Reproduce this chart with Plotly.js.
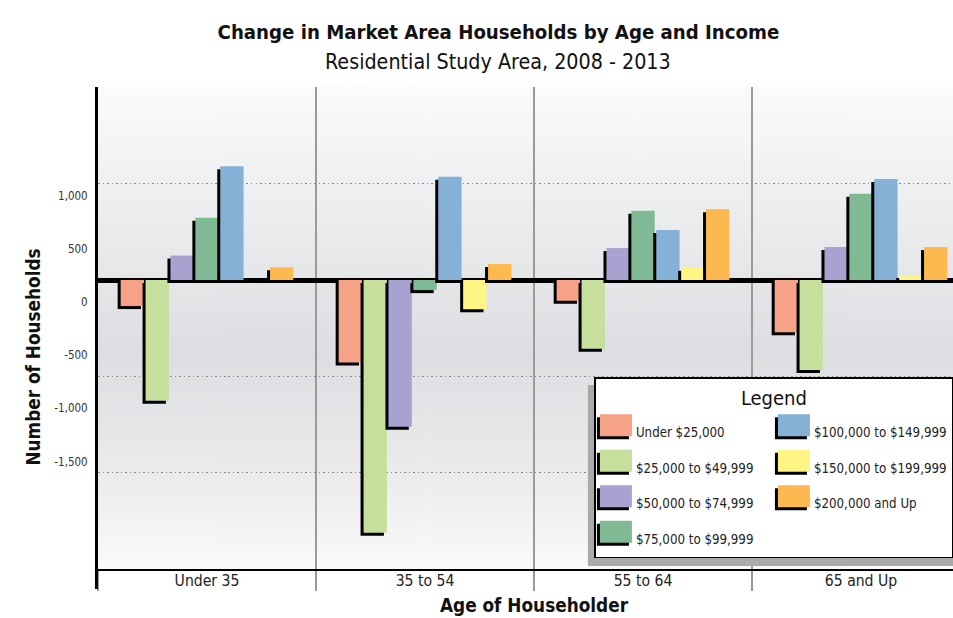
<!DOCTYPE html>
<html>
<head>
<meta charset="utf-8">
<script src="https://cdn.plot.ly/plotly-3.0.1.min.js"></script>
<style>
html,body{margin:0;padding:0;background:#fff;}
#chart{width:953px;height:618px;}
</style>
</head>
<body>
<div id="chart"></div>
<script>
// ---------------- data ----------------
const categories = ["Under 35", "35 to 54", "55 to 64", "65 and Up"];
const seriesNames = ["Under $25,000", "$25,000 to $49,999", "$50,000 to $74,999", "$75,000 to $99,999",
                     "$100,000 to $149,999", "$150,000 to $199,999", "$200,000 and Up"];
const seriesColors = ["#F6A287", "#C6DF9C", "#A8A2D0", "#80BA95", "#86B1D6", "#FFF585", "#FDB94F"];
const under25k   = [-245, -775, -195, -490];
const k25to50    = [-1135, -2375, -645, -845];
const k50to75    = [230, -1380, 300, 310];
const k75to100   = [585, -95, 650, 810];
const k100to150  = [1070, 970, 470, 950];
const k150to200  = [0, -275, 115, 45];
const k200plus   = [120, 150, 665, 310];
const yTickVals  = [-1500, -1000, -500, 0, 500, 1000];
const yTickText  = ["-1,500", "-1,000", "-500", "0", "500", "1,000"];
const legendRanks = [1, 3, 5, 7, 2, 4, 6];

const seriesValues = [under25k, k25to50, k50to75, k75to100, k100to150, k150to200, k200plus];

// ---------------- styling constants ----------------
const FONT = '"DejaVu Sans Condensed", "Liberation Sans Narrow", "Arial Narrow", sans-serif';
const off0 = -0.396, pitch = 0.1142, barW = 0.107;
const shadowDx = -3 / 218, shadowDy = 28.2;

// background gradient for plot area
const cv = document.createElement('canvas');
cv.width = 4; cv.height = 482;
const ctx = cv.getContext('2d');
const grad = ctx.createLinearGradient(0, 0, 0, 482);
grad.addColorStop(0.00, '#fbfbfb');
grad.addColorStop(0.20, '#eff0f1');
grad.addColorStop(0.40, '#e5e6e8');
grad.addColorStop(0.55, '#dddee1');
grad.addColorStop(0.80, '#ebebed');
grad.addColorStop(1.00, '#fafafa');
ctx.fillStyle = grad;
ctx.fillRect(0, 0, 4, 482);
const bgURL = cv.toDataURL();

// ---------------- traces ----------------
const traces = [];
seriesValues.forEach(function (vals, i) {
  traces.push({
    type: 'bar', x: categories, y: vals, base: -shadowDy,
    offset: off0 + i * pitch + shadowDx, width: barW,
    marker: {color: '#000', line: {width: 0}},
    showlegend: false, hoverinfo: 'skip'
  });
  traces.push({
    type: 'bar', name: '<span style="font-size:13.2px">' + seriesNames[i] + '</span>',
    x: categories, y: vals, offset: off0 + i * pitch, width: barW,
    marker: {color: seriesColors[i], line: {width: 0}},
    legendrank: legendRanks[i]
  });
});
traces.push({type: 'scatter', mode: 'markers', x: [], y: [], yaxis: 'y2', showlegend: false, hoverinfo: 'skip'});

const layout = {
  width: 953, height: 618,
  margin: {l: 98, r: 0, t: 87, b: 49, autoexpand: false},
  paper_bgcolor: '#ffffff',
  plot_bgcolor: 'rgba(0,0,0,0)',
  font: {family: FONT, color: '#222'},
  barmode: 'overlay',
  showlegend: true,
  title: {
    text: 'Change in Market Area Households by Age and Income',
    font: {family: FONT, size: 20.2, weight: 'bold', color: '#111'},
    x: 0.523, xref: 'container', xanchor: 'center',
    y: 0.948, yref: 'container', yanchor: 'middle'
  },
  xaxis: {
    type: 'category', categoryorder: 'array', categoryarray: categories,
    range: [-0.5, 3.422], tickson: 'boundaries',
    ticks: 'outside', ticklen: 20, tickwidth: 1.5, tickcolor: '#999',
    showgrid: true, gridcolor: '#9a9a9a', gridwidth: 1.5,
    showline: true, linecolor: '#000', linewidth: 1.5,
    zeroline: false, tickfont: {size: 15.6, color: '#222'},
    ticklabelstandoff: -3, fixedrange: true
  },
  yaxis: {
    range: [-2716, 1814], tickvals: yTickVals, ticktext: yTickText,
    ticks: '', showgrid: false,
    zeroline: true, zerolinecolor: '#000', zerolinewidth: 5,
    showline: true, linecolor: '#000', linewidth: 3,
    tickfont: {size: 11.5, color: '#333'},
    ticklabelshift: 22, ticklabelstandoff: 5, fixedrange: true
  },
  yaxis2: {
    overlaying: 'y', side: 'left', range: [-3.001, 2.004], dtick: 1, tick0: 0,
    showgrid: true, griddash: '1.5px,3px', gridcolor: '#8a8a8a', gridwidth: 1.2,
    showticklabels: false, zeroline: false, showline: false, ticks: '', fixedrange: true
  },
  legend: {
    orientation: 'h', x: 1.0005, xanchor: 'right', y: 0.3983, yanchor: 'top',
    bgcolor: '#ffffff', bordercolor: '#000', borderwidth: 1.5,
    font: {family: FONT, size: 25, color: '#222'},
    title: {text: 'Legend', side: 'top center', font: {family: FONT, size: 20, color: '#111'}},
    entrywidth: 133, entrywidthmode: 'pixels', traceorder: 'normal'
  },
  images: [{
    source: bgURL, xref: 'paper', yref: 'paper', x: 0, y: 1, sizex: 1, sizey: 1,
    sizing: 'stretch', xanchor: 'left', yanchor: 'top', layer: 'below'
  }],
  shapes: [
    {type: 'rect', xref: 'paper', yref: 'paper', layer: 'above',
     x0: 0.573, x1: 1.0, y0: 0.0062, y1: 0.3817,
     fillcolor: '#aaaaaa', line: {width: 0}},
    {type: 'line', xref: 'paper', yref: 'paper', layer: 'above',
     x0: -0.0018, x1: -0.0018, y0: 0.002, y1: -0.0415, line: {color: '#000', width: 3}}
  ],
  annotations: [
    {text: 'Residential Study Area, 2008 - 2013', xref: 'paper', yref: 'paper', x: 0.4678, y: 1.0519,
     xanchor: 'center', yanchor: 'middle', showarrow: false,
     font: {family: FONT, size: 21.3, color: '#111'}},
    {text: 'Number of Households', xref: 'paper', yref: 'paper', x: -0.0752, y: 0.44,
     xanchor: 'center', yanchor: 'middle', textangle: -90, showarrow: false,
     font: {family: FONT, size: 18.8, weight: 'bold', color: '#111'}},
    {text: 'Age of Householder', xref: 'paper', yref: 'paper', x: 0.51, y: -0.0747,
     xanchor: 'center', yanchor: 'middle', showarrow: false,
     font: {family: FONT, size: 18.8, weight: 'bold', color: '#111'}}
  ]
};

Plotly.newPlot('chart', traces, layout, {displayModeBar: false, staticPlot: true}).then(function (gd) {
  // enlarge legend swatches and give them the drop shadow seen in the reference
  const paths = gd.querySelectorAll('.legend .legendpoints path');
  paths.forEach(function (p) {
    const sh = p.cloneNode(true);
    sh.setAttribute('d', 'M-19,-10H13V12H-19Z');
    sh.style.fill = '#000';
    sh.style.stroke = 'none';
    p.parentNode.insertBefore(sh, p);
    p.setAttribute('d', 'M-16,-13H16V9H-16Z');
    p.style.stroke = 'none';
  });
});
</script>
</body>
</html>
